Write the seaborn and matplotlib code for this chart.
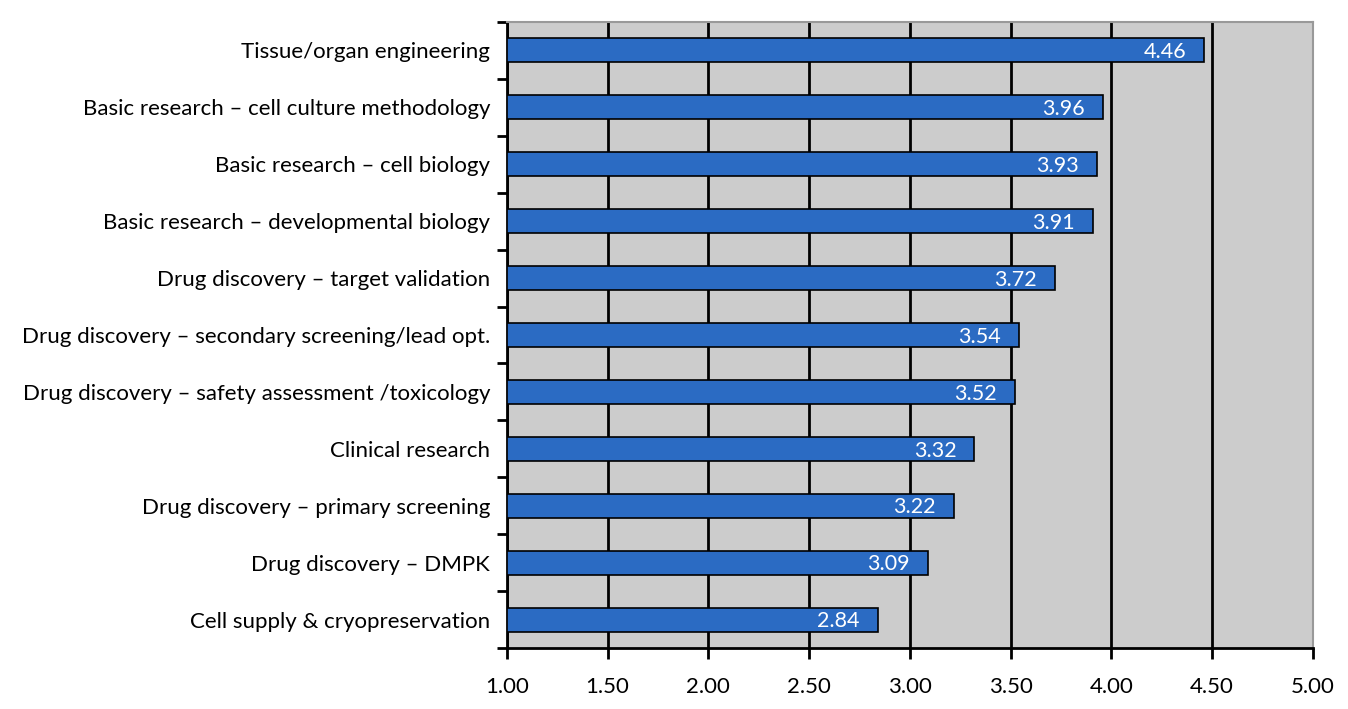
import numpy as np
import pandas as pd
import seaborn as sns
import matplotlib.pyplot as plt
from matplotlib.ticker import FixedLocator

categories = [
    'Tissue/organ engineering',
    'Basic research \u2013 cell culture methodology',
    'Basic research \u2013 cell biology',
    'Basic research \u2013 developmental biology',
    'Drug discovery \u2013 target validation',
    'Drug discovery \u2013 secondary screening/lead opt.',
    'Drug discovery \u2013 safety assessment /toxicology',
    'Clinical research',
    'Drug discovery \u2013 primary screening',
    'Drug discovery \u2013 DMPK',
    'Cell supply & cryopreservation',
]
scores = [4.46, 3.96, 3.93, 3.91, 3.72, 3.54, 3.52, 3.32, 3.22, 3.09, 2.84]
x_ticks = [1.0, 1.5, 2.0, 2.5, 3.0, 3.5, 4.0, 4.5, 5.0]

df = pd.DataFrame({'area': categories, 'score': scores})

sns.set_style('white')
plt.rcParams['font.family'] = ['Lato', 'DejaVu Sans']
plt.rcParams['text.color'] = 'black'
plt.rcParams['xtick.color'] = 'black'
plt.rcParams['ytick.color'] = 'black'

fig, ax = plt.subplots(figsize=(13.48, 7.09), dpi=100)
fig.subplots_adjust(left=0.376, right=0.974, top=0.969, bottom=0.086)

ax.set_facecolor('#cccccc')
# axis starts at 1.00, so bars run from 1 to the score
sns.barplot(data=df, y='area', x='score', orient='h', color='#2b6bc3',
            saturation=1, width=0.42, edgecolor='black', linewidth=1.2,
            ax=ax, zorder=3)
for p in ax.patches:
    w = p.get_width()
    p.set_x(1.0)
    p.set_width(w - 1.0)

for i, v in enumerate(scores):
    ax.text(v - 0.09, i + 0.03, f'{v:.2f}', color='white', ha='right', va='center',
            fontsize=15.5, zorder=4)

ax.set_xlim(1.0, 5.0)
ax.set_ylim(len(categories) - 0.5, -0.5)
ax.set_xticks(x_ticks)
ax.set_xticklabels([f'{t:.2f}' for t in x_ticks], fontsize=16)
ax.xaxis.grid(True, color='black', linewidth=2)
ax.set_axisbelow(True)
for gl in ax.xaxis.get_gridlines():
    gl.set_zorder(1)

ax.tick_params(axis='x', bottom=True, direction='out', length=8, width=2,
               color='black', labelcolor='black', pad=13)
ax.tick_params(axis='y', which='major', left=False, length=0, labelsize=16,
               labelcolor='black', pad=12)
ax.yaxis.set_minor_locator(FixedLocator(np.arange(-0.5, len(categories), 1.0)))
ax.tick_params(axis='y', which='minor', left=True, direction='out', length=7,
               width=2, color='black')
ax.set_xlabel('')
ax.set_ylabel('')

for side in ['left', 'bottom']:
    ax.spines[side].set_color('black')
    ax.spines[side].set_linewidth(2)
for side in ['top', 'right']:
    ax.spines[side].set_color('#999999')
    ax.spines[side].set_linewidth(1.5)

fig.savefig('out.png', dpi=100)
